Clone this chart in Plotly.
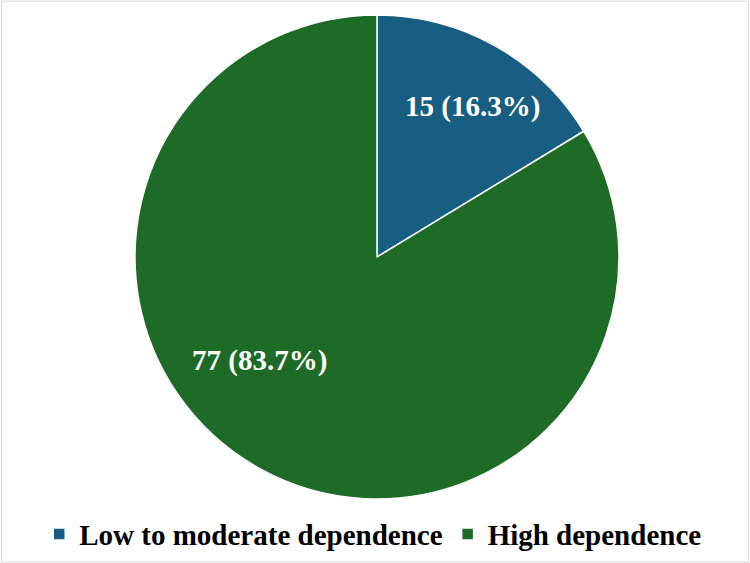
import plotly.graph_objects as go

labels = ["Low to moderate dependence", "High dependence"]
counts = [15, 77]
percents = [16.3, 83.7]
colors = ["#175e82", "#1d6b27"]

text = [f"{c} ({p}%)" for c, p in zip(counts, percents)]
# label placement (paper coords) — styling, not data
label_pos = [(0.63, 0.81), (0.346, 0.36)]

fig = go.Figure(go.Pie(
    labels=labels,
    values=counts,
    textinfo="none",
    marker=dict(colors=colors, line=dict(color="white", width=1.5)),
    sort=False,
    direction="clockwise",
    rotation=0,
    hoverinfo="label+value+percent",
    domain=dict(x=[0.18, 0.8253], y=[0.1137, 0.9734]),
))

for t, (x, y) in zip(text, label_pos):
    fig.add_annotation(x=x, y=y, xref="paper", yref="paper", text=t, showarrow=False,
                       font=dict(family="Liberation Serif", size=29, color="white", weight="bold"),
                       xanchor="center", yanchor="middle")

fig.update_layout(
    width=750, height=563,
    margin=dict(l=0, r=0, t=0, b=0),
    paper_bgcolor="white",
    showlegend=True,
    legend=dict(
        orientation="h",
        x=0.497, xanchor="center",
        y=0.006, yanchor="bottom",
        font=dict(family="Liberation Serif", size=29, color="black", weight="bold"),
        itemwidth=30,
    ),
    shapes=[dict(type="rect", xref="paper", yref="paper", x0=0.002, y0=0.002, x1=0.998, y1=0.998,
                 line=dict(color="#d9d9d9", width=1))],
)

fig.write_html("out.html")
